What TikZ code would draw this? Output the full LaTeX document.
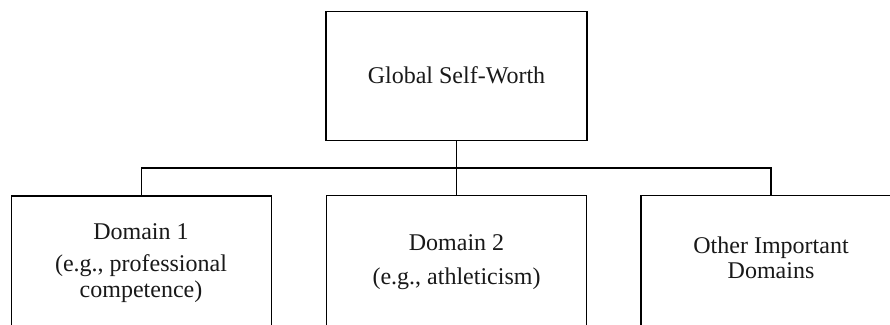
\documentclass[tikz,border=0pt]{standalone}
\usepackage{fontspec}
\setmainfont{Liberation Serif}
\begin{document}
\begin{tikzpicture}[x=1pt,y=-1pt,
  box/.style={draw=black, line width=1.5pt, rectangle, minimum width=260pt, minimum height=160pt, anchor=north, inner sep=0pt},
  topbox/.style={draw=black, line width=1.5pt, rectangle, minimum width=261pt, minimum height=129pt, anchor=north, inner sep=0pt},
  lbl/.style={anchor=base, inner sep=0pt, font=\fontsize{24}{26}\selectfont, text=black!90},
  conn/.style={draw=black, line width=1.5pt}]
\useasboundingbox (0,0) rectangle (890,324);
\clip (0,0) rectangle (890,324);
\fill[white] (0,0) rectangle (890,324);
\node[topbox] (top) at (456.5,10.5) {};
\node[box] (d1) at (141.5,195) {};
\node[box] (d2) at (456.5,194.5) {};
\node[box] (d3) at (771,194.5) {};
\node[lbl] (tt) at (456.5,83) {Global Self-Worth};
\node[lbl] (t1a) at (141,239) {Domain 1};
\node[lbl] (t1b) at (141,271.5) {(e.g., professional};
\node[lbl] (t1c) at (141,297) {competence)};
\node[lbl] (t2a) at (456.5,250) {Domain 2};
\node[lbl] (t2b) at (456.5,284) {(e.g., athleticism)};
\node[lbl] (t3a) at (771,253) {Other Important};
\node[lbl] (t3b) at (771,278) {Domains};
\coordinate (j) at (456.5,168);
\draw[conn] (top.south) -- (j);
\draw[conn] (j) -| (d1.north);
\draw[conn] (j) -| (d3.north);
\draw[conn] (j) -- (d2.north);
\end{tikzpicture}
\end{document}
